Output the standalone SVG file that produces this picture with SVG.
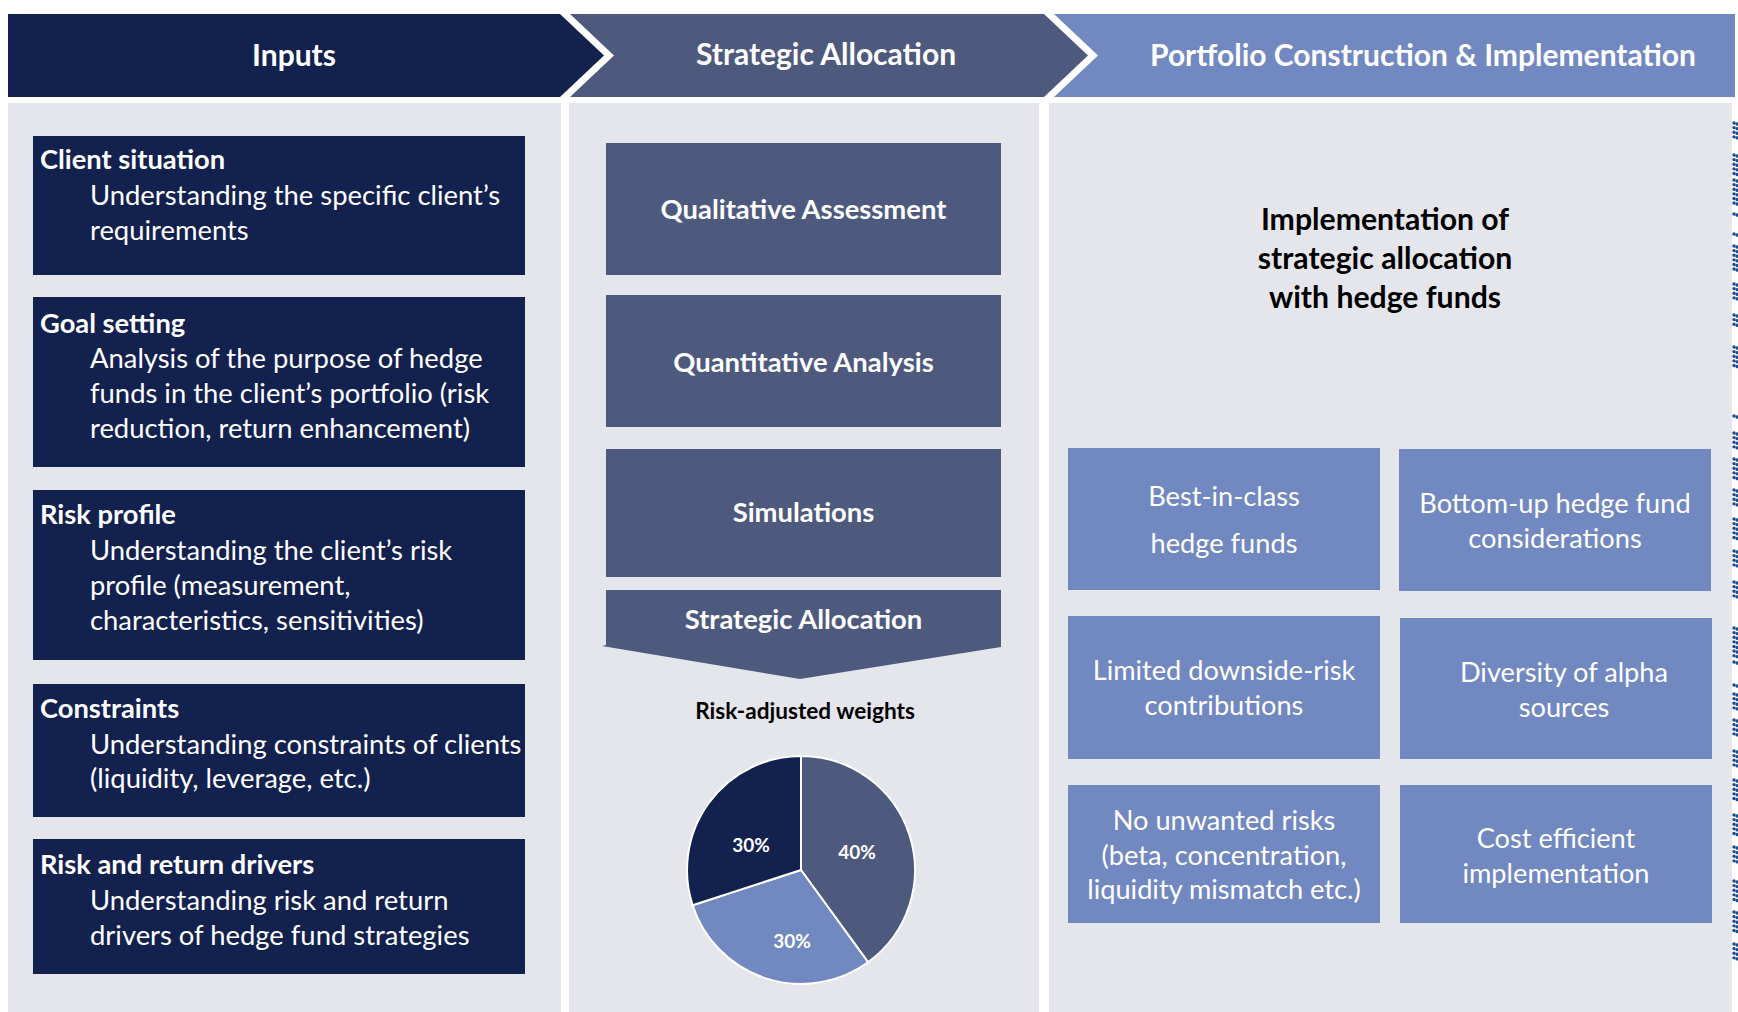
<svg xmlns="http://www.w3.org/2000/svg" width="1738" height="1012" viewBox="0 0 1738 1012">
  <style>
    .navy { fill: #13214F; }
    .slate { fill: #4D5A7D; }
    .light { fill: #7288C0; }
    .panel { fill: #E5E6EC; }
    text { font-family: Lato, "Open Sans", "Liberation Sans", sans-serif; }
    .hdr { fill: #FFFFFF; font-weight: 700; font-size: 30px; text-anchor: middle; }
    .ttl { fill: #FFFFFF; font-weight: 700; font-size: 27.3px; }
    .body { fill: #FFFFFF; font-size: 27.4px; }
    .mid { fill: #FFFFFF; font-weight: 700; font-size: 27.4px; text-anchor: middle; }
    .cap { fill: #000000; font-weight: 700; font-size: 22.6px; text-anchor: middle; }
    .big { fill: #000000; font-weight: 700; font-size: 30.2px; text-anchor: middle; }
    .cell { fill: #FFFFFF; font-size: 27.2px; text-anchor: middle; }
    .pct { fill: #FFFFFF; font-weight: 700; font-size: 19px; text-anchor: middle; }
    .dots { stroke: #1A4A90; stroke-width: 3.4; stroke-linecap: round; stroke-dasharray: 0.01 4.6; fill: none; }
  </style>

  <rect width="1738" height="1012" fill="#FFFFFF"/>

  <!-- column backgrounds -->
  <g id="panels">
    <rect class="panel" x="8" y="103" width="553" height="909"/>
    <rect class="panel" x="569" y="103" width="470" height="909"/>
    <rect class="panel" x="1049" y="103" width="683" height="909"/>
  </g>

  <!-- stage chevrons -->
  <g id="stage-inputs">
    <path class="navy" d="M8,14 H560 L604,55.5 L560,97 H8 Z"/>
    <text class="hdr" x="294" y="66">Inputs</text>
  </g>
  <g id="stage-strategic">
    <path class="slate" d="M570,14 H1044 L1088,55.5 L1044,97 H570 L614,55.5 Z"/>
    <text class="hdr" x="826" y="65">Strategic Allocation</text>
  </g>
  <g id="stage-portfolio">
    <path class="light" d="M1054,14 H1735 V97 H1054 L1098,55.5 Z"/>
    <text class="hdr" x="1423" y="66">Portfolio Construction &amp; Implementation</text>
  </g>

  <!-- inputs column -->
  <g id="client-situation">
    <rect class="navy" x="33" y="136" width="492" height="139"/>
    <text class="ttl" x="40" y="169">Client situation</text>
    <text class="body" x="90" y="205">Understanding the specific client’s</text>
    <text class="body" x="90" y="240">requirements</text>
  </g>
  <g id="goal-setting">
    <rect class="navy" x="33" y="297" width="492" height="170"/>
    <text class="ttl" x="40" y="333">Goal setting</text>
    <text class="body" x="90" y="368">Analysis of the purpose of hedge</text>
    <text class="body" x="90" y="403">funds in the client’s portfolio (risk</text>
    <text class="body" x="90" y="438">reduction, return enhancement)</text>
  </g>
  <g id="risk-profile">
    <rect class="navy" x="33" y="490" width="492" height="170"/>
    <text class="ttl" x="40" y="524">Risk profile</text>
    <text class="body" x="90" y="560">Understanding the client’s risk</text>
    <text class="body" x="90" y="595">profile (measurement,</text>
    <text class="body" x="90" y="630">characteristics, sensitivities)</text>
  </g>
  <g id="constraints">
    <rect class="navy" x="33" y="684" width="492" height="133"/>
    <text class="ttl" x="40" y="718">Constraints</text>
    <text class="body" x="90" y="754">Understanding constraints of clients</text>
    <text class="body" x="90" y="788">(liquidity, leverage, etc.)</text>
  </g>
  <g id="risk-return-drivers">
    <rect class="navy" x="33" y="839" width="492" height="135"/>
    <text class="ttl" x="40" y="874">Risk and return drivers</text>
    <text class="body" x="90" y="910">Understanding risk and return</text>
    <text class="body" x="90" y="945">drivers of hedge fund strategies</text>
  </g>

  <!-- strategic allocation column -->
  <g id="qualitative">
    <rect class="slate" x="606" y="143" width="395" height="132"/>
    <text class="mid" x="803.5" y="219">Qualitative Assessment</text>
  </g>
  <g id="quantitative">
    <rect class="slate" x="606" y="295" width="395" height="132"/>
    <text class="mid" x="803.5" y="372">Quantitative Analysis</text>
  </g>
  <g id="simulations">
    <rect class="slate" x="606" y="449" width="395" height="128"/>
    <text class="mid" x="803.5" y="522">Simulations</text>
  </g>
  <g id="strategic-allocation">
    <path class="slate" d="M606,590 H1001 V647 L800,679 L602,646 L606,645 Z"/>
    <text class="mid" x="803.5" y="629">Strategic Allocation</text>
  </g>
  <g id="weights-chart">
    <text class="cap" x="805" y="719">Risk-adjusted weights</text>
    <g stroke="#FFFFFF" stroke-width="2" stroke-linejoin="round">
      <path class="slate" d="M801,870 L801,756 A114,114 0 0,1 868,962.2 Z"/>
      <path class="light" d="M801,870 L868,962.2 A114,114 0 0,1 692.6,905.2 Z"/>
      <path class="navy" d="M801,870 L692.6,905.2 A114,114 0 0,1 801,756 Z"/>
    </g>
    <text class="pct" x="857" y="859">40%</text>
    <text class="pct" x="792" y="948">30%</text>
    <text class="pct" x="751" y="852">30%</text>
  </g>

  <!-- portfolio construction column -->
  <g id="implementation">
    <text class="big" x="1385" y="230">Implementation of</text>
    <text class="big" x="1385" y="269">strategic allocation</text>
    <text class="big" x="1385" y="308">with hedge funds</text>
  </g>
  <g id="best-in-class">
    <rect class="light" x="1068" y="448" width="312" height="142"/>
    <text class="cell" x="1224" y="506">Best-in-class</text>
    <text class="cell" x="1224" y="553">hedge funds</text>
  </g>
  <g id="bottom-up">
    <rect class="light" x="1399" y="449" width="312" height="142"/>
    <text class="cell" x="1555" y="513">Bottom-up hedge fund</text>
    <text class="cell" x="1555" y="548">considerations</text>
  </g>
  <g id="downside-risk">
    <rect class="light" x="1068" y="616" width="312" height="143"/>
    <text class="cell" x="1224" y="680">Limited downside-risk</text>
    <text class="cell" x="1224" y="715">contributions</text>
  </g>
  <g id="alpha-diversity">
    <rect class="light" x="1400" y="618" width="312" height="141"/>
    <text class="cell" x="1564" y="682">Diversity of alpha</text>
    <text class="cell" x="1564" y="717">sources</text>
  </g>
  <g id="unwanted-risks">
    <rect class="light" x="1068" y="785" width="312" height="138"/>
    <text class="cell" x="1224" y="830">No unwanted risks</text>
    <text class="cell" x="1224" y="865">(beta, concentration,</text>
    <text class="cell" x="1224" y="899">liquidity mismatch etc.)</text>
  </g>
  <g id="cost-efficient">
    <rect class="light" x="1400" y="785" width="312" height="138"/>
    <text class="cell" x="1556" y="848">Cost efficient</text>
    <text class="cell" x="1556" y="883">implementation</text>
  </g>

  <!-- dotted edge line, drawn as two close columns of dots -->
  <g id="edge-dots">
    <path id="dot-run" class="dots" d="M1734,123 V137 M1734,155 V175 M1734,180 V206 M1734,214 V217 M1734,234 V237 M1734,246 V272 M1734,284 V298 M1734,315 V327 M1734,347 V367 M1734,416 V419 M1734,433 V447 M1734,459 V482 M1734,490 V505 M1734,519 V539 M1734,551 V565 M1734,582 V597 M1734,628 V657 M1734,662 V665 M1734,685 V688 M1734,694 V708 M1734,720 V737 M1734,751 V768 M1734,780 V803 M1734,815 V835 M1734,847 V865 M1734,881 V901 M1734,912 V932 M1734,944 V961"/>
    <use href="#dot-run" x="3" y="1"/>
  </g>
</svg>
